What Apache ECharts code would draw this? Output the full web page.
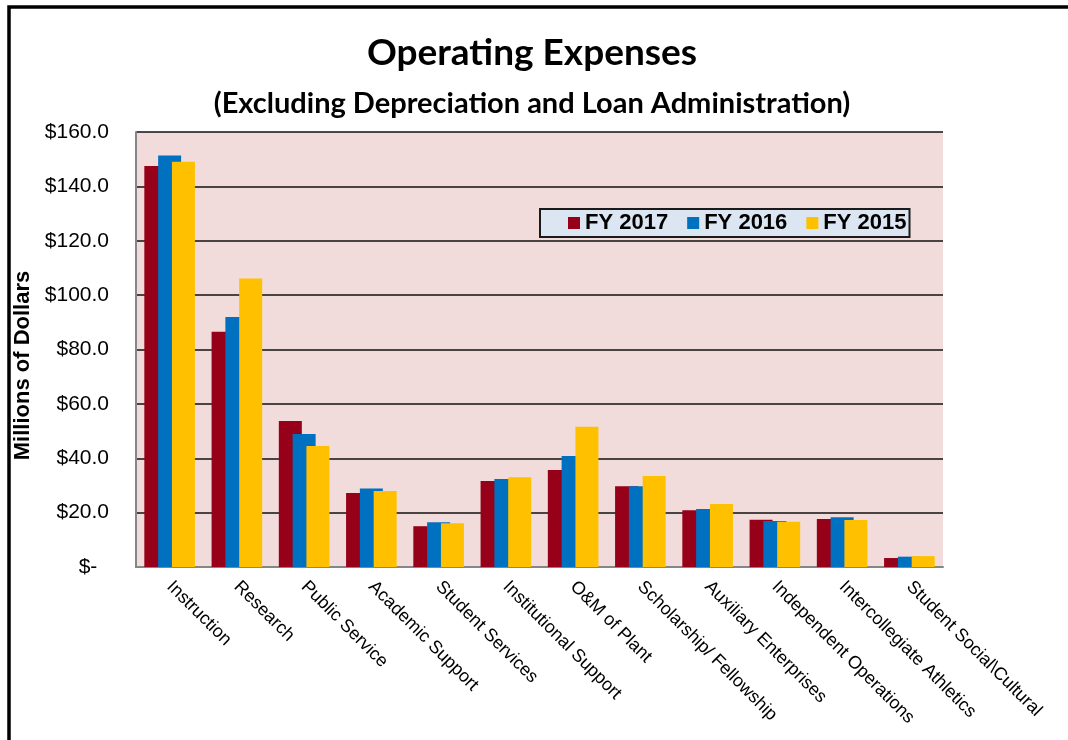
<!DOCTYPE html>
<html>
<head>
<meta charset="utf-8">
<script src="https://cdn.jsdelivr.net/npm/echarts@6/dist/echarts.min.js"></script>
<style>
html, body { margin: 0; padding: 0; background: #fff; }
#main { width: 1068px; height: 740px; }
</style>
</head>
<body>
<div id="main"></div>
<script>
var categories = ['Instruction', 'Research', 'Public Service', 'Academic Support', 'Student Services',
    'Institutional Support', 'O&M of Plant', 'Scholarship/ Fellowship', 'Auxiliary Enterprises',
    'Independent Operations', 'Intercollegiate Athletics', 'Student Social\\Cultural'];
var fy2017 = [147.5, 86.5, 53.7, 27.2, 15.0, 31.6, 35.7, 29.7, 20.9, 17.4, 17.7, 3.3];
var fy2016 = [151.4, 92.0, 48.9, 28.9, 16.5, 32.4, 40.8, 29.7, 21.3, 16.9, 18.3, 3.8];
var fy2015 = [149.1, 106.1, 44.5, 28.0, 16.1, 33.0, 51.6, 33.5, 23.2, 16.6, 17.3, 4.0];
var yTicks = [0, 20, 40, 60, 80, 100, 120, 140, 160];

var chart = echarts.init(document.getElementById('main'));

function barSeries(name, data) {
    return {
        name: name,
        type: 'bar',
        data: data,
        barWidth: 23,
        barGap: '-40%'
    };
}

var option = {
    backgroundColor: '#ffffff',
    animation: false,
    color: ['#960018', '#0070c0', '#ffc000'],
    title: {
        text: 'Operating Expenses',
        subtext: '(Excluding Depreciation and Loan Administration)',
        left: 527,
        top: 30,
        textAlign: 'center',
        itemGap: 17,
        textStyle: {
            fontFamily: 'Lato',
            fontWeight: 'bold',
            fontSize: 37,
            color: '#000'
        },
        subtextStyle: {
            fontFamily: 'Lato',
            fontWeight: 'bold',
            fontSize: 29,
            color: '#000'
        }
    },
    legend: {
        data: ['FY 2017', 'FY 2016', 'FY 2015'],
        left: 540,
        top: 209,
        icon: 'rect',
        itemWidth: 12,
        itemHeight: 12,
        itemGap: 19,
        padding: [3, 3, 3, 28],
        backgroundColor: '#dce6f2',
        borderColor: '#1a1a1a',
        borderWidth: 2,
        textStyle: {
            fontFamily: 'Liberation Sans',
            fontWeight: 'bold',
            fontSize: 22,
            color: '#000'
        }
    },
    grid: {
        left: 136,
        right: 125,
        top: 132,
        bottom: 173,
        show: true,
        backgroundColor: '#f2dcdb',
        borderWidth: 0
    },
    xAxis: {
        type: 'category',
        data: categories,
        axisLine: { lineStyle: { color: '#868686', width: 2 } },
        axisTick: { show: false },
        axisLabel: {
            interval: 0,
            rotate: -45,
            margin: 17,
            fontFamily: 'Liberation Sans',
            fontSize: 18,
            color: '#000'
        }
    },
    yAxis: {
        type: 'value',
        min: yTicks[0],
        max: yTicks[yTicks.length - 1],
        interval: 20,
        name: 'Millions of Dollars',
        nameLocation: 'middle',
        nameGap: 98,
        nameTextStyle: {
            fontFamily: 'Liberation Sans',
            fontWeight: 'bold',
            fontSize: 22,
            color: '#000',
            padding: [0, 32, 0, 0]
        },
        axisLine: { show: true, lineStyle: { color: '#868686', width: 2 } },
        axisTick: { show: false },
        splitLine: { lineStyle: { color: '#111', width: 1.5 } },
        axisLabel: {
            margin: 27,
            fontFamily: 'Liberation Sans',
            fontSize: 21,
            color: '#000',
            formatter: function (v) {
                return v === 0 ? '$-  ' : '$' + v.toFixed(1);
            }
        }
    },
    graphic: [{
        type: 'rect',
        shape: { x: 9, y: 7, width: 1200, height: 900 },
        style: { fill: 'none', stroke: '#000', lineWidth: 3.5 },
        silent: true
    }],
    series: [
        barSeries('FY 2017', fy2017),
        barSeries('FY 2016', fy2016),
        barSeries('FY 2015', fy2015)
    ]
};
chart.setOption(option);
</script>
</body>
</html>
